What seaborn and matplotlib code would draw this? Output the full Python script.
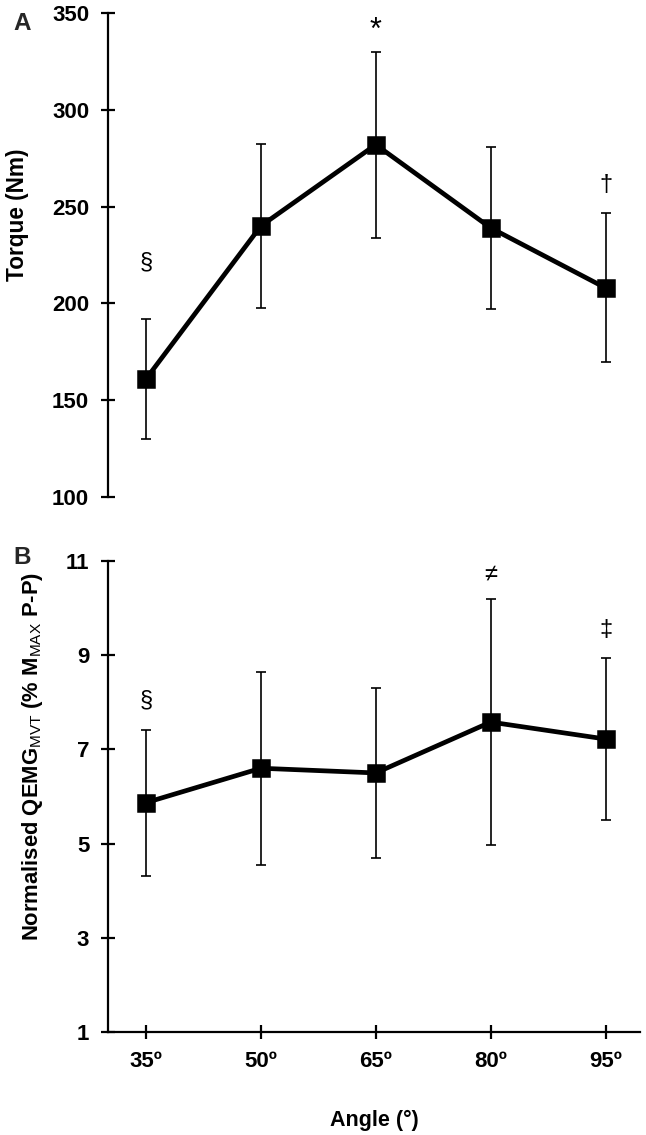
import matplotlib
matplotlib.use("Agg")
import matplotlib.pyplot as plt
import seaborn as sns
import pandas as pd

angles = ["35º", "50º", "65º", "80º", "95º"]
torque_mean = [161, 240, 282, 239, 208]
torque_sd = [31, 42.5, 48, 42, 38.5]
qemg_mean = [5.87, 6.60, 6.50, 7.58, 7.22]
qemg_sd = [1.55, 2.05, 1.81, 2.62, 1.72]
torque_marks = ["§", "", "*", "", "†"]
torque_mark_y = [221, None, 341, None, 261]
qemg_marks = ["§", "", "", "≠", "‡"]
qemg_mark_y = [8.03, None, None, 10.72, 9.53]

sns.set_theme(style="white")
plt.rcParams["font.family"] = ["Liberation Sans", "DejaVu Sans"]
plt.rcParams["mathtext.fontset"] = "custom"
plt.rcParams["mathtext.rm"] = "Liberation Sans"
plt.rcParams["mathtext.bf"] = "Liberation Sans:bold"

W, H = 646, 1135
fig = plt.figure(figsize=(W / 100, H / 100), dpi=100)
left, right = 108, 640
axA = fig.add_axes([left / W, 1 - 497 / H, (right - left) / W, (497 - 13) / H])
axB = fig.add_axes([left / W, 1 - 1032 / H, (right - left) / W, (1032 - 561) / H])

dfA = pd.DataFrame({"angle": angles, "val": torque_mean})
dfB = pd.DataFrame({"angle": angles, "val": qemg_mean})

TICK_FS = 16
LAB_FS = 16.3

for ax, df, sd in [(axA, dfA, torque_sd), (axB, dfB, qemg_sd)]:
    ax.errorbar(range(len(angles)), df["val"], yerr=sd, fmt="none", ecolor="black",
                elinewidth=1.2, capsize=3.8, capthick=1.2, zorder=1)
    sns.pointplot(data=df, x="angle", y="val", color="black", markers="s",
                  markersize=10.8, linewidth=3.4, errorbar=None, ax=ax, zorder=3)
    ax.set_xlim(-0.331, 4.30)
    ax.set_xlabel("")
    for s in ["top", "right"]:
        ax.spines[s].set_visible(False)
    ax.spines["left"].set_color("black")
    ax.spines["left"].set_linewidth(1.6)
    ax.tick_params(axis="y", direction="inout", length=10, width=1.6, color="black",
                   left=True, pad=8.5, labelsize=TICK_FS, labelcolor="black")

def mark_size(m):
    return 22 if m == "*" else 17

# Panel A
yA = [100, 150, 200, 250, 300, 350]
axA.set_ylim(100, 350)
axA.set_yticks(yA)
axA.set_yticklabels([str(v) for v in yA], fontweight="bold", fontsize=TICK_FS)
axA.spines["bottom"].set_visible(False)
axA.tick_params(axis="x", bottom=False, labelbottom=False)
axA.set_ylabel("Torque (Nm)", fontsize=LAB_FS, fontweight="bold", color="black")
axA.yaxis.set_label_coords(-0.148, 0.584)
for i, (m, y) in enumerate(zip(torque_marks, torque_mark_y)):
    if m:
        axA.text(i, y, m, ha="center", va="center", fontsize=mark_size(m), color="black")

# Panel B
yB = [1, 3, 5, 7, 9, 11]
axB.set_ylim(1, 11)
axB.set_yticks(yB)
axB.set_yticklabels([str(v) for v in yB], fontweight="bold", fontsize=TICK_FS)
axB.spines["bottom"].set_color("black")
axB.spines["bottom"].set_linewidth(1.6)
axB.tick_params(axis="x", direction="inout", length=10, width=1.6, color="black",
                bottom=True, pad=9, labelsize=TICK_FS, labelcolor="black")
for lab in axB.get_xticklabels():
    lab.set_fontweight("bold")
axB.set_xlabel("Angle (°)", fontsize=15.5, fontweight="bold", color="black", labelpad=27)
axB.set_ylabel(r"Normalised QEMG$_{\mathrm{MVT}}$ (% M$_{\mathrm{MAX}}$ P-P)",
               fontsize=15.8, fontweight="bold", color="black")
axB.yaxis.set_label_coords(-0.118, 0.585)
for i, (m, y) in enumerate(zip(qemg_marks, qemg_mark_y)):
    if m:
        axB.text(i, y, m, ha="center", va="center", fontsize=mark_size(m), color="black")

fig.text(13 / W, 1 - 23 / H, "A", fontsize=17.5, fontweight="bold", ha="left", va="center")
fig.text(13 / W, 1 - 558 / H, "B", fontsize=17.5, fontweight="bold", ha="left", va="center")

fig.savefig("out.png", dpi=100)
